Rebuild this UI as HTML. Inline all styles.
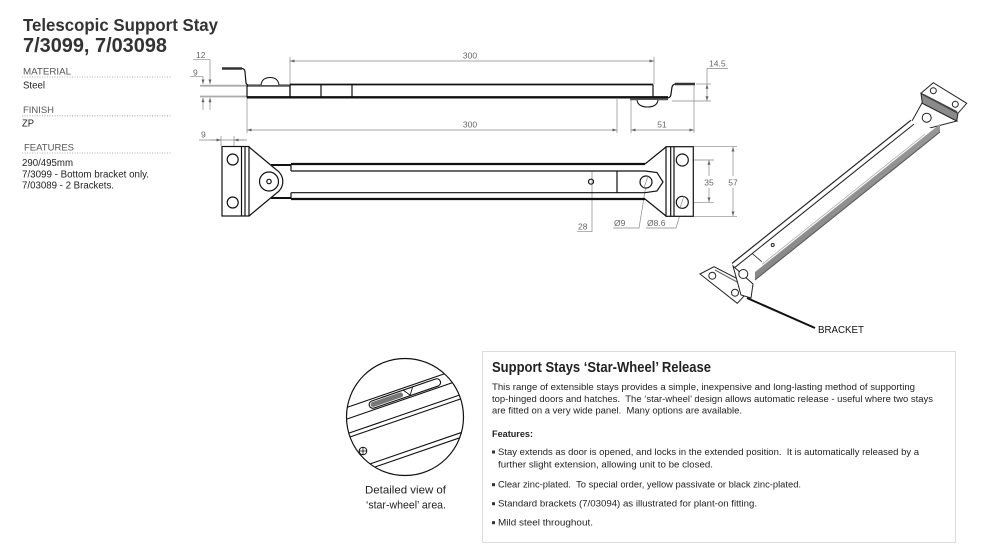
<!DOCTYPE html>
<html><head><meta charset="utf-8">
<style>
html,body{margin:0;padding:0;background:#fff;}
body{width:1000px;height:560px;position:relative;overflow:hidden;font-family:"Liberation Sans",Arial,sans-serif;}
svg{position:absolute;left:0;top:0;}
</style></head><body>
<svg width="1000" height="560" viewBox="0 0 1000 560" xmlns="http://www.w3.org/2000/svg" font-family="Liberation Sans, Arial, sans-serif">
<defs>
<marker id="a" viewBox="0 0 6 4" markerWidth="5" markerHeight="3" refX="6" refY="2" orient="auto-start-reverse" markerUnits="userSpaceOnUse"><path d="M0,0L6,2L0,4z" fill="#666"/></marker>
<clipPath id="cc"><circle cx="405" cy="417" r="58.5"/></clipPath>
<linearGradient id="gb" x1="0" y1="0" x2="0.6" y2="0.8"><stop offset="0" stop-color="#cfcfcf"/><stop offset="1" stop-color="#747474"/></linearGradient>
</defs>

<!-- LEFT COLUMN TEXT -->
<text x="23" y="31" font-size="17.5" font-weight="700" fill="#333" textLength="195" lengthAdjust="spacingAndGlyphs">Telescopic Support Stay</text>
<text x="23" y="52" font-size="20" font-weight="700" fill="#333" textLength="144" lengthAdjust="spacingAndGlyphs">7/3099, 7/03098</text>
<g font-size="9.5" fill="#555">
<text x="23" y="74.5" textLength="48" lengthAdjust="spacingAndGlyphs">MATERIAL</text>
<text x="23" y="113" textLength="31" lengthAdjust="spacingAndGlyphs">FINISH</text>
<text x="24" y="150.5" textLength="50" lengthAdjust="spacingAndGlyphs">FEATURES</text>
</g>
<g stroke="#999" stroke-width="0.8" stroke-dasharray="1 1.5">
<line x1="22" y1="77" x2="172" y2="77"/>
<line x1="22" y1="115.8" x2="172" y2="115.8"/>
<line x1="22" y1="153" x2="172" y2="153"/>
</g>
<g font-size="10" fill="#222">
<text x="23" y="88.5" textLength="22" lengthAdjust="spacingAndGlyphs">Steel</text>
<text x="22" y="126.5" textLength="12" lengthAdjust="spacingAndGlyphs">ZP</text>
<text x="22" y="166" textLength="51" lengthAdjust="spacingAndGlyphs">290/495mm</text>
<text x="22" y="177.3" textLength="127" lengthAdjust="spacingAndGlyphs">7/3099 - Bottom bracket only.</text>
<text x="22" y="188.6" textLength="92" lengthAdjust="spacingAndGlyphs">7/03089 - 2 Brackets.</text>
</g>

<!-- TOP SIDE VIEW : dimensions -->
<g stroke="#888" stroke-width="0.7" fill="none">
<path d="M193,59.7 H210 V84" marker-end="url(#a)"/>
<path d="M190,76.7 H203 V84" marker-end="url(#a)"/>
<path d="M203,110 V97.8" marker-end="url(#a)"/>
<path d="M210,110 V97.8" marker-end="url(#a)"/>
<line x1="290" y1="61" x2="654" y2="61" marker-start="url(#a)" marker-end="url(#a)"/>
<line x1="290" y1="57" x2="290" y2="84"/>
<line x1="654" y1="57" x2="654" y2="84"/>
<line x1="247" y1="130" x2="617" y2="130" marker-start="url(#a)" marker-end="url(#a)"/>
<line x1="247" y1="98" x2="247" y2="133"/>
<line x1="617" y1="99" x2="617" y2="133"/>
<line x1="631" y1="130" x2="694" y2="130" marker-start="url(#a)" marker-end="url(#a)"/>
<line x1="631" y1="100" x2="631" y2="133"/>
<line x1="694" y1="85" x2="694" y2="133"/>
<path d="M728,68.5 H707 V84"/>
<line x1="707" y1="92" x2="707" y2="84.3" marker-end="url(#a)"/>
<line x1="707" y1="92" x2="707" y2="100.7" marker-end="url(#a)"/>
<line x1="696" y1="84" x2="711" y2="84"/>
<line x1="672" y1="101" x2="711" y2="101"/>
</g>
<g stroke="#aaa" stroke-width="1.8">
<line x1="200" y1="85.7" x2="247" y2="85.7"/>
<line x1="200" y1="96.5" x2="247" y2="96.5"/>
</g>
<g font-size="8.5" fill="#666">
<text x="196" y="58">12</text>
<text x="193" y="75.5">9</text>
<text x="470" y="58.5" text-anchor="middle">300</text>
<text x="470" y="127.5" text-anchor="middle">300</text>
<text x="662" y="127.5" text-anchor="middle">51</text>
<text x="709" y="66.5">14.5</text>
</g>
<!-- TOP SIDE VIEW : part -->
<g stroke="#111" fill="none" stroke-width="1.2">
<line x1="222" y1="68.5" x2="242" y2="68.5" stroke-width="2.6" stroke="#333"/>
<path d="M242,68.5 Q245,69 245,72 L246,83 Q247,85.5 250,85.5"/>
<rect x="247" y="86" width="43" height="11"/>
<line x1="248" y1="85.5" x2="290" y2="85.5" stroke="#555" stroke-width="2.2"/>
<path d="M261,85 Q262,77.5 270,77.5 Q278,77.5 279,85" fill="#fff" stroke-width="1"/>
<line x1="290" y1="84.5" x2="653" y2="84.5" stroke-width="1.8"/>
<line x1="247" y1="97.3" x2="668" y2="97.3" stroke-width="2.4"/>
<line x1="290" y1="84.5" x2="290" y2="97"/>
<line x1="321" y1="84.5" x2="321" y2="97"/>
<line x1="352" y1="84.5" x2="352" y2="97"/>
<line x1="653" y1="84.5" x2="653" y2="97"/>
<line x1="630" y1="99.2" x2="668" y2="99.2" stroke="#555" stroke-width="2"/>
<path d="M637,100 Q638,107 647.5,107 Q657,107 658,100" fill="#fff" stroke-width="1"/>
<path d="M668,98 Q671,97 671,94 L672,87 Q673,84 676,84"/>
<line x1="675" y1="84" x2="695" y2="84" stroke-width="2.6" stroke="#333"/>
</g>

<!-- PLAN VIEW : dimensions -->
<g stroke="#888" stroke-width="0.7" fill="none">
<line x1="199" y1="140" x2="247" y2="140"/>
<line x1="210" y1="140" x2="221" y2="140" marker-end="url(#a)"/>
<line x1="245" y1="140" x2="234" y2="140" marker-end="url(#a)"/>
<line x1="221" y1="136" x2="221" y2="146"/>
<line x1="234" y1="136" x2="234" y2="153"/>
<path d="M577,231.7 H592 V171"/>
<path d="M613,228 H639 L647,179"/>
<path d="M646,228 H676 L685,198"/>
<line x1="689" y1="160" x2="714" y2="160"/>
<line x1="689" y1="202.3" x2="714" y2="202.3"/>
<line x1="709" y1="176" x2="709" y2="160.3" marker-end="url(#a)"/>
<line x1="709" y1="188" x2="709" y2="202" marker-end="url(#a)"/>
<line x1="694" y1="146.7" x2="737" y2="146.7"/>
<line x1="694" y1="216.3" x2="737" y2="216.3"/>
<line x1="733" y1="176" x2="733" y2="147" marker-end="url(#a)"/>
<line x1="733" y1="188" x2="733" y2="216" marker-end="url(#a)"/>
</g>
<g font-size="8.5" fill="#666">
<text x="201" y="137.5">9</text>
<text x="578" y="229.5">28</text>
<text x="614" y="226">Ø9</text>
<text x="647" y="226">Ø8.6</text>
<text x="709" y="185.5" text-anchor="middle">35</text>
<text x="733" y="185.5" text-anchor="middle">57</text>
</g>
<!-- PLAN VIEW : part -->
<g stroke="#111" fill="none" stroke-width="1.2">
<rect x="222" y="146.5" width="27" height="69.5" fill="#fff"/>
<line x1="241.5" y1="146.5" x2="241.5" y2="216"/>
<line x1="245" y1="146.5" x2="245" y2="216"/>
<circle cx="232.7" cy="159.5" r="5.5"/>
<circle cx="232.7" cy="202.5" r="5.5"/>
<path d="M249,147 L276,169.5 A14,14 0 0 1 276,193.5 L249,216"/>
<circle cx="269" cy="181.5" r="9.5"/>
<circle cx="269" cy="181.5" r="2.2"/>
<line x1="271" y1="165" x2="291" y2="165" stroke-width="2"/>
<line x1="271" y1="198" x2="291" y2="198" stroke-width="2"/>
<line x1="291" y1="164" x2="645" y2="164" stroke-width="2.2"/>
<line x1="291" y1="171" x2="645" y2="171"/>
<line x1="291" y1="192.7" x2="645" y2="192.7"/>
<line x1="291" y1="199" x2="645" y2="199" stroke-width="2.2"/>
<line x1="291" y1="164" x2="291" y2="171"/>
<line x1="291" y1="192.7" x2="291" y2="199"/>
<circle cx="591" cy="181.7" r="2.5"/>
<line x1="617" y1="171" x2="617" y2="193"/>
<path d="M645,171 L657,172.5 L663,182 L657,191 L645,192.7"/>
<circle cx="646" cy="182" r="6" fill="#fff"/>
<line x1="645" y1="164" x2="666" y2="147"/>
<line x1="645" y1="199" x2="666" y2="216"/>
<rect x="666" y="146.7" width="27.3" height="69.6" fill="#fff"/>
<line x1="670.7" y1="146.7" x2="670.7" y2="216.3"/>
<line x1="674" y1="146.7" x2="674" y2="216.3"/>
<circle cx="682.3" cy="160" r="6"/>
<circle cx="682.3" cy="202.3" r="6"/>
</g>
<g stroke="#888" stroke-width="0.7"><line x1="644" y1="188" x2="648" y2="176"/><line x1="680" y1="208" x2="684" y2="196"/></g>

<!-- ISOMETRIC VIEW -->
<g stroke="#222" stroke-width="1" fill="#fff">
<polygon points="700,274 714,266.7 752.7,286.7 737.3,303.3"/>
<line x1="715" y1="270" x2="750" y2="289" stroke="#666"/>
<circle cx="712.3" cy="275.7" r="3.5"/>
<circle cx="735" cy="292.7" r="3.5"/>
<polygon points="733,266 753,284 751,298 741,295"/>
<polygon points="922,103 912,121 926,129 957,121"/>
<polygon points="911,120.2 940,132 755,280 732,263.4" stroke="none"/>
<polygon points="940,124 940,132 755,280 755,272" fill="url(#gb)" stroke="none"/>
<line x1="911" y1="120.2" x2="732" y2="263.4" stroke-width="1.2"/>
<line x1="914" y1="124.1" x2="735" y2="267.3"/>
<line x1="925" y1="134" x2="762" y2="264.4" stroke="#aaa" stroke-width="0.8"/>
<line x1="940" y1="132" x2="755" y2="280" stroke="#555"/>
<line x1="752" y1="253.3" x2="761.7" y2="261.7" stroke-width="0.8"/>
<circle cx="772.7" cy="245" r="1.5"/>
<circle cx="743.3" cy="274" r="4.5"/>
<polygon points="921,93.3 922.3,103.3 956.7,121 958,113.3" fill="#8a8a8a"/>
<polygon points="921,93.3 933.3,82.7 966.7,103.3 958,113.3"/>
<line x1="924" y1="95" x2="957" y2="112" stroke="#444" stroke-width="1.6"/>
<circle cx="933.3" cy="90.7" r="3"/>
<circle cx="955.3" cy="104.3" r="3"/>
<circle cx="926.7" cy="117.7" r="4.5"/>
</g>
<line x1="747" y1="298" x2="815" y2="328" stroke="#111" stroke-width="2"/>
<text x="818" y="333" font-size="10" fill="#111" textLength="46" lengthAdjust="spacingAndGlyphs">BRACKET</text>

<!-- DETAIL CIRCLE -->
<g clip-path="url(#cc)">
<g transform="translate(405,417) rotate(-19)" stroke="#111" fill="none" stroke-width="1.1">
<line x1="-80" y1="-28" x2="80" y2="-28"/>
<line x1="-80" y1="-17" x2="80" y2="-17"/>
<line x1="-80" y1="-3" x2="80" y2="-3"/>
<line x1="-80" y1="1" x2="80" y2="1"/>
<line x1="-80" y1="33" x2="80" y2="33"/>
<line x1="-80" y1="37.5" x2="80" y2="37.5"/>
<rect x="-30" y="-26" width="75" height="7.5" rx="3.7" fill="#fff"/>
<rect x="-28.5" y="-24.8" width="34" height="5" rx="2.5" fill="#777" stroke="none"/>
<path d="M7,-26 L12,-19 L17,-26" stroke-width="0.9"/>
</g>
</g>
<circle cx="405" cy="417" r="58.5" stroke="#111" stroke-width="1.2" fill="none"/>
<circle cx="363" cy="451" r="3.8" stroke="#111" fill="none"/>
<path d="M363,447.2 V454.8 M359.2,451 H366.8" stroke="#111" stroke-width="0.8"/>
<text x="365" y="493.3" font-size="11" fill="#222" textLength="81" lengthAdjust="spacingAndGlyphs">Detailed view of</text>
<text x="366" y="508.3" font-size="11" fill="#222" textLength="80" lengthAdjust="spacingAndGlyphs">‘star-wheel’ area.</text>

<!-- TEXT BOX -->
<rect x="482.5" y="351.5" width="473" height="191" fill="none" stroke="#dcdcdc" stroke-width="1"/>
<text x="492" y="372" font-size="14.5" font-weight="700" fill="#222" textLength="219" lengthAdjust="spacingAndGlyphs">Support Stays ‘Star-Wheel’ Release</text>
<g font-size="9.6" fill="#222">
<text x="492" y="390" textLength="423" lengthAdjust="spacingAndGlyphs">This range of extensible stays provides a simple, inexpensive and long-lasting method of supporting</text>
<text x="492" y="402" textLength="441" lengthAdjust="spacingAndGlyphs">top-hinged doors and hatches. &#160;The ‘star-wheel’ design allows automatic release - useful where two stays</text>
<text x="492" y="413.5" textLength="250" lengthAdjust="spacingAndGlyphs">are fitted on a very wide panel. &#160;Many options are available.</text>
<text x="492" y="437" font-weight="700" textLength="41" lengthAdjust="spacingAndGlyphs">Features:</text>
<text x="498" y="455" textLength="421" lengthAdjust="spacingAndGlyphs">Stay extends as door is opened, and locks in the extended position. &#160;It is automatically released by a</text>
<text x="498" y="467.7" textLength="215" lengthAdjust="spacingAndGlyphs">further slight extension, allowing unit to be closed.</text>
<text x="498" y="487.7" textLength="303" lengthAdjust="spacingAndGlyphs">Clear zinc-plated. &#160;To special order, yellow passivate or black zinc-plated.</text>
<text x="498" y="506.7" textLength="259" lengthAdjust="spacingAndGlyphs">Standard brackets (7/03094) as illustrated for plant-on fitting.</text>
<text x="498" y="525.7" textLength="95" lengthAdjust="spacingAndGlyphs">Mild steel throughout.</text>
</g>
<g fill="#333">
<rect x="492" y="450.5" width="3" height="3"/>
<rect x="492" y="483.2" width="3" height="3"/>
<rect x="492" y="502.2" width="3" height="3"/>
<rect x="492" y="521.2" width="3" height="3"/>
</g>
</svg>
</body></html>
